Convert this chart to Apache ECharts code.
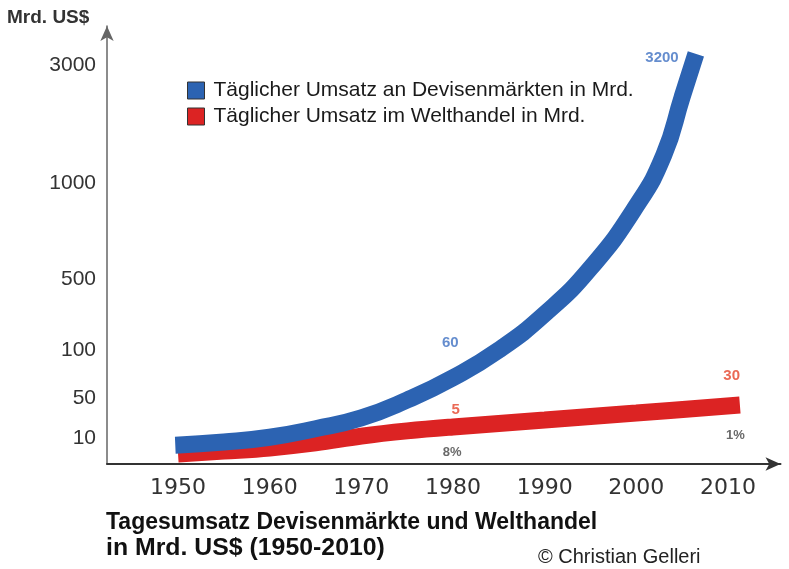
<!DOCTYPE html>
<html><head><meta charset="utf-8">
<script src="https://cdn.jsdelivr.net/npm/echarts@6/dist/echarts.min.js"></script>
<style>html,body{margin:0;padding:0;background:#fff}#c{width:789px;height:569px}</style>
</head><body><div id="c"></div>
<script>
// x-axis tick labels
const years = [1950, 1960, 1970, 1980, 1990, 2000, 2010];
// schematic y-axis: labelled values and their breakpoints on the (non-uniform) scale
const tickValues = [10, 50, 100, 500, 1000, 3000];
const tickLevels = [26, 66, 114, 185, 281, 399];

const fxName = 'Täglicher Umsatz an Devisenmärkten in Mrd.';
const tradeName = 'Täglicher Umsatz im Welthandel in Mrd.';

// daily FX turnover (bn US$)
const fxYears  = [1949.7, 1955, 1960, 1965, 1970, 1975, 1980, 1985, 1990, 1995, 2000, 2003, 2005, 2006.5];
const fxValues = [7.5, 8.5, 10.3, 14.5, 22.4, 46, 67, 100, 226, 541, 847, 1297, 2228, 3325];

// daily world trade turnover (bn US$)
const tradeYears  = [1950, 1955, 1960, 1965, 1970, 1975, 1980, 1990, 2000, 2011.3];
const tradeValues = [5.25, 5.9, 6.7, 8.2, 10.8, 13.3, 15.6, 20.6, 27.3, 37.8];

// annotations
const annTexts  = ['3200', '60', '5', '8%', '30', '1%'];
const annYears  = [2002.8, 1979.7, 1980.3, 1979.9, 2010.4, 2010.8];
const annValues = [3200, 118, 31, 5.7, 69, 11.1];
const annKinds  = ['fx', 'fx', 'trade', 'share', 'trade', 'share'];

function toLevel(v) {
  let i = 0;
  while (i < tickValues.length - 2 && v > tickValues[i + 1]) i++;
  const v0 = tickValues[i], v1 = tickValues[i + 1], l0 = tickLevels[i], l1 = tickLevels[i + 1];
  return l0 + Math.log(v / v0) / Math.log(v1 / v0) * (l1 - l0);
}

const BLUE = '#2c63b2', RED = '#dc2323';
const annStyle = {
  fx:    {color: '#3f70c2', fontSize: 15},
  trade: {color: '#e5432b', fontSize: 15},
  share: {color: '#444444', fontSize: 13}
};

const chart = echarts.init(document.getElementById('c'));
chart.setOption({
  animation: false,
  backgroundColor: '#fff',
  textStyle: {fontFamily: '"Liberation Sans", Arial, sans-serif'},
  grid: {left: 107, right: 8.5, top: 26, bottom: 105},
  legend: {
    data: [fxName, tradeName],
    orient: 'vertical',
    left: 182, top: 75,
    icon: 'rect',
    itemWidth: 17, itemHeight: 17, itemGap: 5,
    itemStyle: {borderColor: '#333', borderWidth: 1},
    textStyle: {fontSize: 21, color: '#1a1a1a', padding: [0, 0, 0, 4]},
    selectedMode: false
  },
  xAxis: {
    type: 'value', min: 1942.25, max: 2015.73,
    axisLine: {show: true, onZero: false, symbol: ['none', 'arrow'], symbolSize: [10, 15],
               lineStyle: {color: '#333', width: 2}},
    axisTick: {show: false},
    splitLine: {show: false},
    axisLabel: {customValues: years, formatter: v => String(v),
                fontFamily: '"DejaVu Sans", sans-serif', fontSize: 22, color: '#333', margin: 13}
  },
  yAxis: {
    type: 'value', min: 0, max: 438,
    axisLine: {show: true, onZero: false, symbol: ['none', 'arrow'], symbolSize: [10, 15],
               lineStyle: {color: '#666', width: 1.5}},
    axisTick: {show: false},
    splitLine: {show: false},
    axisLabel: {customValues: tickLevels,
                formatter: v => { const i = tickLevels.indexOf(Math.round(v)); return i >= 0 ? String(tickValues[i]) : ''; },
                fontSize: 21, color: '#333', margin: 11}
  },
  series: [
    {
      name: tradeName, type: 'line', z: 2,
      data: tradeYears.map((y, i) => [y, toLevel(tradeValues[i])]),
      smooth: 0.4, showSymbol: false, symbol: 'none',
      lineStyle: {width: 17, color: RED, cap: 'butt'}, itemStyle: {color: RED},
      emphasis: {disabled: true}
    },
    {
      name: fxName, type: 'line', z: 3,
      data: fxYears.map((y, i) => [y, toLevel(fxValues[i])]),
      smooth: 0.5, showSymbol: false, symbol: 'none',
      lineStyle: {width: 17, color: BLUE, cap: 'butt'}, itemStyle: {color: BLUE},
      emphasis: {disabled: true}
    },
    {
      name: 'labels', type: 'scatter', z: 5, symbolSize: 1,
      itemStyle: {color: 'rgba(0,0,0,0)'},
      emphasis: {disabled: true},
      data: annTexts.map((t, i) => ({
        value: [annYears[i], toLevel(annValues[i])],
        label: {show: true, position: 'inside', formatter: t, fontWeight: 'bold',
                color: annStyle[annKinds[i]].color, fontSize: annStyle[annKinds[i]].fontSize}
      }))
    }
  ],
  graphic: [
    {type: 'text', x: 7, y: 18, style: {text: 'Mrd. US$', fontSize: 19, fontWeight: 'bold',
      fontFamily: '"Liberation Sans", Arial', fill: '#333', verticalAlign: 'middle'}},
    {type: 'text', x: 106, y: 522.5, style: {text: 'Tagesumsatz Devisenmärkte und Welthandel', fontSize: 23, fontWeight: 'bold',
      fontFamily: '"Liberation Sans", Arial', fill: '#111', verticalAlign: 'middle'}},
    {type: 'text', x: 106, y: 549, scaleX: 1.08, style: {text: 'in Mrd. US$ (1950-2010)', fontSize: 23, fontWeight: 'bold',
      fontFamily: '"Liberation Sans", Arial', fill: '#111', verticalAlign: 'middle'}},
    {type: 'text', x: 538, y: 557, style: {text: '© Christian Gelleri', fontSize: 20,
      fontFamily: '"Liberation Sans", Arial', fill: '#222', verticalAlign: 'middle'}}
  ]
});
</script>
</body></html>
